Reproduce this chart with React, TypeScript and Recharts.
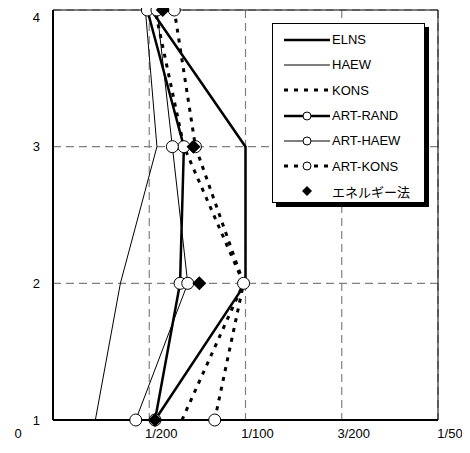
import { ScatterChart, Scatter, XAxis, YAxis, CartesianGrid, ReferenceLine, Legend } from 'recharts'

const FLOORS = [1, 2, 3, 4]
const X_TICKS = [0, 0.005, 0.01, 0.015, 0.02]
const X_TICK_LABELS = ['0', '1/200', '1/100', '3/200', '1/50']

// story drift angle per floor (floor 1..4)
const ELNS = [0.0053, 0.01, 0.01, 0.0051]
const HAEW = [0.0022, 0.0035, 0.0054, 0.0048]
const KONS = [0.0067, 0.0099, 0.0068, 0.0053]
const ART_RAND = [0.0053, 0.0066, 0.0068, 0.0049]
const ART_HAEW = [0.0043, 0.007, 0.0062, 0.0054]
const ART_KONS = [0.0084, 0.0099, 0.0074, 0.0063]
const ENERGY = [0.0053, 0.0076, 0.0073, 0.0057]

const FONT = '"Liberation Sans", "Noto Sans CJK JP", sans-serif'

type Marker = 'none' | 'circle' | 'diamond'
interface Series {
  name: string
  values: number[]
  width: number
  dash?: string
  marker: Marker
  line: boolean
}

const SERIES: Series[] = [
  { name: 'ELNS', values: ELNS, width: 2.5, marker: 'none', line: true },
  { name: 'HAEW', values: HAEW, width: 1, marker: 'none', line: true },
  { name: 'KONS', values: KONS, width: 3, dash: '4 6', marker: 'none', line: true },
  { name: 'ART-RAND', values: ART_RAND, width: 2.5, marker: 'circle', line: true },
  { name: 'ART-HAEW', values: ART_HAEW, width: 1, marker: 'circle', line: true },
  { name: 'ART-KONS', values: ART_KONS, width: 3, dash: '4 6', marker: 'circle', line: true },
  { name: 'エネルギー法', values: ENERGY, width: 0, marker: 'diamond', line: false },
]

const toPoints = (values: number[]) => FLOORS.map((f, i) => ({ x: values[i], y: f }))

function markerShape(marker: Marker) {
  return (p: any) => {
    if (marker === 'circle') return <circle cx={p.cx} cy={p.cy} r={6} fill="#fff" stroke="#000" strokeWidth={1} />
    if (marker === 'diamond')
      return <polygon points={`${p.cx},${p.cy - 7} ${p.cx + 7},${p.cy} ${p.cx},${p.cy + 7} ${p.cx - 7},${p.cy}`} fill="#000" />
    return <g />
  }
}

function XTick({ x, y, index }: any) {
  const dx = index === 0 ? -35 : 12
  return (
    <text x={x + dx} y={y + 18} textAnchor="middle" fontSize={13} fontFamily={FONT} fill="#000">
      {X_TICK_LABELS[index]}
    </text>
  )
}

function YTick({ x, y, payload }: any) {
  return (
    <text x={x - 13} y={y + 4.5} textAnchor="end" fontSize={13} fontFamily={FONT} fill="#000">
      {payload.value}
    </text>
  )
}

function LegendBox() {
  return (
    <div
      style={{
        width: 153,
        height: 180,
        boxSizing: 'border-box',
        border: '1px solid #000',
        background: '#fff',
        boxShadow: '4px 4px 0 #000',
        paddingTop: 3,
        fontFamily: FONT,
        fontSize: 13,
      }}
    >
      {SERIES.map((s) => (
        <div key={s.name} style={{ height: 25.3, display: 'flex', alignItems: 'center', paddingLeft: 10 }}>
          <svg width={48} height={16}>
            {s.line && <line x1={1} y1={8} x2={47} y2={8} stroke="#000" strokeWidth={s.width} strokeDasharray={s.dash} />}
            {s.marker === 'circle' && <circle cx={24} cy={8} r={4} fill="#fff" stroke="#000" />}
            {s.marker === 'diamond' && <polygon points="24,3 29,8 24,13 19,8" fill="#000" />}
          </svg>
          <span style={{ marginLeft: 1 }}>{s.name}</span>
        </div>
      ))}
    </div>
  )
}

export default function App() {
  return (
    <ScatterChart width={462} height={445} margin={{ top: 2, right: 32, bottom: 3, left: 0 }}>
      <CartesianGrid stroke="#808080" strokeWidth={1.2} strokeDasharray="8 5" horizontalPoints={undefined} />
      <XAxis
        type="number"
        dataKey="x"
        domain={[0, 0.02]}
        ticks={X_TICKS}
        height={30}
        tickSize={0}
        tickMargin={0}
        tick={<XTick />}
        axisLine={{ stroke: '#000', strokeWidth: 2 }}
        tickLine={false}
        allowDataOverflow
      />
      <YAxis
        type="number"
        dataKey="y"
        domain={[1, 4]}
        ticks={FLOORS}
        width={45}
        tickSize={0}
        tickMargin={0}
        tick={<YTick />}
        axisLine={{ stroke: '#000', strokeWidth: 2 }}
        tickLine={false}
      />
      <ReferenceLine y={4} stroke="#000" strokeWidth={1} />
      <ReferenceLine x={0.02} stroke="#000" strokeWidth={1} />
      {SERIES.map((s) => (
        <Scatter
          key={s.name}
          name={s.name}
          data={toPoints(s.values)}
          fill="#000"
          isAnimationActive={false}
          line={s.line ? { stroke: '#000', strokeWidth: s.width, strokeDasharray: s.dash } : false}
          shape={markerShape(s.marker)}
        />
      ))}
      <Legend
        layout="vertical"
        align="center"
        verticalAlign="middle"
        wrapperStyle={{ left: 264, top: 15, width: 157 }}
        content={() => <LegendBox />}
      />
    </ScatterChart>
  )
}
